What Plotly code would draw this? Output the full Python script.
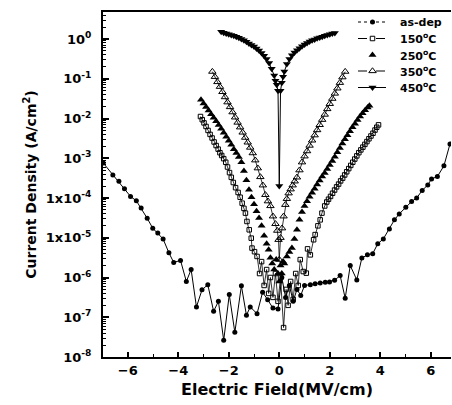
import plotly.graph_objects as go

# ---------------- data (E in MV/cm, log10 of J in A/cm^2) ----------------
asdep_E = [-6.97,-6.59,-6.35,-6.13,-5.89,-5.66,-5.47,-5.23,-5.01,-4.81,-4.60,
           -4.37,-4.18,-3.91,-3.68,-3.49,-3.28,-3.06,-2.83,-2.60,-2.41,
           -2.20,-1.98,-1.76,-1.50,-1.30,-1.15,-0.88,-0.66,-0.46,-0.25,
           -0.05,0.10,0.25,0.40,0.55,0.70,0.85,1.00,1.23,1.42,
           1.62,1.82,1.99,2.19,2.41,2.61,2.81,3.07,3.27,3.49,
           3.70,3.90,4.12,4.36,4.56,4.75,5.01,5.24,5.44,5.66,
           5.88,6.03,6.26,6.52,6.76]
asdep_logJ = [-3.12,-3.42,-3.58,-3.77,-3.96,-4.07,-4.25,-4.51,-4.76,-4.88,-5.03,
              -5.38,-5.62,-5.57,-6.10,-5.80,-6.74,-6.31,-6.18,-6.85,-6.60,
              -7.58,-6.43,-7.38,-6.21,-6.95,-6.74,-6.91,-6.37,-6.56,-6.77,
              -6.79,-6.00,-6.50,-6.20,-6.60,-6.30,-6.45,-6.20,-6.18,-6.16,
              -6.14,-6.12,-6.11,-6.07,-5.95,-6.52,-5.70,-6.06,-5.51,-5.43,
              -5.40,-5.15,-5.03,-4.78,-4.55,-4.40,-4.23,-4.09,-4.00,-3.81,
              -3.67,-3.52,-3.46,-3.19,-2.64]

t150_E = [-3.12,-3.05,-2.98,-2.90,-2.82,-2.74,-2.66,-2.58,-2.50,-2.42,-2.35,-2.28,-2.20,-2.12,-2.05,
          -1.97,-1.90,-1.82,-1.73,-1.63,-1.55,-1.47,-1.40,-1.34,-1.28,-1.19,-1.11,-1.08,-0.98,-0.88,
          -0.78,-0.70,-0.60,-0.50,-0.42,-0.35,-0.25,-0.15,-0.05,0.05,0.17,0.27,0.35,0.45,0.55,0.65,0.75,
          0.83,0.95,1.07,1.12,1.23,1.36,1.42,1.53,1.62,1.69,1.80,1.88,1.95,2.03,2.11,2.19,2.27,2.35,
          2.43,2.51,2.59,2.67,2.75,2.83,2.91,2.99,3.07,3.15,3.23,3.31,3.39,3.47,3.55,3.63,3.71,3.79,3.86,3.93]
t150_logJ = [-1.95,-2.03,-2.11,-2.20,-2.30,-2.40,-2.49,-2.59,-2.68,-2.77,-2.86,-2.93,-3.01,-3.10,-3.22,
             -3.36,-3.48,-3.61,-3.74,-3.86,-3.98,-4.13,-4.26,-4.38,-4.59,-4.80,-5.01,-5.26,-5.35,-5.47,
             -5.90,-5.60,-6.20,-5.80,-6.40,-6.00,-6.50,-5.90,-6.60,-6.00,-7.26,-6.30,-6.70,-6.10,-6.55,-5.90,-6.20,
             -5.55,-5.85,-5.89,-5.28,-5.43,-5.05,-4.92,-4.70,-4.55,-4.38,-4.20,-4.10,-4.03,-3.96,-3.88,-3.80,-3.72,-3.65,
             -3.57,-3.50,-3.42,-3.34,-3.26,-3.18,-3.10,-3.02,-2.94,-2.86,-2.79,-2.72,-2.65,-2.58,-2.51,-2.44,-2.37,-2.29,-2.22,-2.16]

t250_E = [-3.10,-3.00,-2.90,-2.80,-2.70,-2.60,-2.50,-2.40,-2.30,-2.20,-2.10,-2.00,-1.90,-1.80,-1.70,-1.60,
          -1.50,-1.40,-1.30,-1.20,-1.10,-1.00,-0.90,-0.80,-0.70,-0.60,-0.50,-0.42,-0.35,-0.28,-0.20,-0.12,
          -0.05,0.00,0.05,0.10,0.15,0.20,0.30,0.40,0.50,0.60,0.70,0.80,0.90,1.00,1.10,1.20,1.30,1.40,1.50,
          1.60,1.70,1.80,1.90,2.00,2.10,2.20,2.30,2.40,2.50,2.60,2.70,2.80,2.90,3.00,3.10,3.20,3.30,3.40,3.50,3.57]
t250_logJ = [-1.53,-1.62,-1.71,-1.80,-1.89,-1.98,-2.07,-2.16,-2.26,-2.36,-2.46,-2.56,-2.66,-2.77,-2.87,-2.97,
             -3.10,-3.32,-3.55,-3.79,-3.98,-4.16,-4.33,-4.50,-4.70,-4.95,-5.15,-5.30,-5.50,-5.65,-5.80,-5.55,
             -5.90,-6.10,-5.70,-5.90,-5.60,-5.65,-5.47,-5.36,-5.26,-5.03,-4.80,-4.55,-4.35,-4.20,-4.08,-3.97,-3.87,-3.77,-3.66,
             -3.56,-3.46,-3.37,-3.27,-3.17,-3.07,-2.96,-2.85,-2.74,-2.63,-2.52,-2.42,-2.32,-2.22,-2.13,-2.04,-1.95,-1.87,-1.79,-1.72,-1.68]

t350_E = [-2.65,-2.55,-2.45,-2.35,-2.25,-2.15,-2.05,-1.95,-1.85,-1.75,-1.65,-1.55,-1.45,-1.35,-1.25,-1.15,
          -1.05,-0.95,-0.85,-0.75,-0.65,-0.55,-0.45,-0.35,-0.25,-0.15,-0.08,-0.03,0.00,
          0.05,0.11,0.17,0.24,0.30,0.37,0.45,0.53,0.61,0.70,0.80,0.90,1.00,1.10,1.20,1.30,1.40,1.50,
          1.60,1.70,1.80,1.90,2.00,2.10,2.20,2.30,2.40,2.50,2.61]
t350_logJ = [-0.82,-0.95,-1.08,-1.20,-1.33,-1.46,-1.59,-1.71,-1.84,-1.97,-2.10,-2.22,-2.35,-2.48,-2.60,-2.73,
             -2.87,-3.05,-3.25,-3.47,-3.68,-3.92,-4.08,-4.20,-4.46,-4.65,-4.82,-5.05,-5.55,
             -5.00,-4.76,-4.46,-4.17,-4.02,-3.88,-3.78,-3.68,-3.58,-3.48,-3.30,-3.10,-2.95,-2.82,-2.68,-2.55,-2.42,-2.29,
             -2.16,-2.03,-1.90,-1.76,-1.63,-1.50,-1.37,-1.24,-1.10,-0.96,-0.82]

t450_E = [-2.3,-2.2,-2.1,-2.0,-1.9,-1.8,-1.7,-1.6,-1.5,-1.4,-1.3,-1.2,-1.1,-1.0,-0.9,-0.8,-0.7,-0.6,-0.5,
          -0.4,-0.3,-0.2,-0.15,-0.1,-0.05,0.0,0.05,0.1,0.15,0.2,0.3,0.4,0.5,0.6,0.7,0.8,0.9,1.0,1.1,1.2,
          1.3,1.4,1.5,1.6,1.7,1.8,1.9,2.0,2.1,2.2]
t450_logJ = [0.18,0.16,0.14,0.12,0.10,0.08,0.06,0.03,0.0,-0.03,-0.07,-0.11,-0.15,-0.19,-0.24,-0.29,-0.35,-0.42,-0.50,
             -0.60,-0.75,-0.92,-1.05,-1.15,-1.30,-3.70,-1.30,-1.10,-0.95,-0.82,-0.63,-0.50,-0.41,-0.34,-0.28,-0.23,-0.18,-0.14,-0.10,-0.06,
             -0.03,-0.01,0.02,0.04,0.06,0.08,0.10,0.12,0.14,0.15]

series_names = ["as-dep", "150<sup>o</sup>C", "250<sup>o</sup>C", "350<sup>o</sup>C", "450<sup>o</sup>C"]

x_tickvals = [-6, -4, -2, 0, 2, 4, 6]
x_minorvals = [-5, -3, -1, 1, 3, 5]
y_tickvals = [1e0, 1e-1, 1e-2, 1e-3, 1e-4, 1e-5, 1e-6, 1e-7, 1e-8]
y_ticktext = ["10<sup>0</sup>", "10<sup>-1</sup>", "10<sup>-2</sup>", "10<sup>-3</sup>",
              "1x10<sup>-4</sup>", "1x10<sup>-5</sup>", "10<sup>-6</sup>", "10<sup>-7</sup>", "10<sup>-8</sup>"]

for a, b in [(asdep_E, asdep_logJ), (t150_E, t150_logJ), (t250_E, t250_logJ),
             (t350_E, t350_logJ), (t450_E, t450_logJ)]:
    assert len(a) == len(b), (len(a), len(b))

def J(logs):
    return [10 ** v for v in logs]

BLACK = "black"
styles = [
    dict(mode="lines+markers", line=dict(color=BLACK, width=1),
         marker=dict(symbol="circle", size=5, color=BLACK), leg_dash="dot"),
    dict(mode="lines+markers", line=dict(color=BLACK, width=0.8),
         marker=dict(symbol="square-open", size=4.5, color=BLACK, line=dict(width=1)), leg_dash="dash"),
    dict(mode="markers", line=dict(color=BLACK, width=0),
         marker=dict(symbol="triangle-up", size=7, color=BLACK), leg_dash=None),
    dict(mode="lines+markers", line=dict(color=BLACK, width=0.8),
         marker=dict(symbol="triangle-up-open", size=6.5, color=BLACK, line=dict(width=1)), leg_dash="dash"),
    dict(mode="lines+markers", line=dict(color=BLACK, width=1),
         marker=dict(symbol="triangle-down", size=7, color=BLACK), leg_dash="solid"),
]
datasets = [(asdep_E, asdep_logJ), (t150_E, t150_logJ), (t250_E, t250_logJ),
            (t350_E, t350_logJ), (t450_E, t450_logJ)]

fig = go.Figure()
for (ex, lj), st, nm in zip(datasets, styles, series_names):
    fig.add_trace(go.Scatter(x=ex, y=J(lj), mode=st["mode"], line=st["line"],
                             marker=st["marker"], name=nm, showlegend=False,
                             xaxis="x", yaxis="y"))

# ---- hand-made legend (drawn on an overlay axis in plot-area fractions) ----
W, H = 452, 405
L, R, T, B = 103, 1, 12, 48
pw, ph = W - L - R, H - T - B
def fx(px):
    return (px - L) / pw
def fy(py):
    return (H - B - py) / ph
leg_rows = [22, 38.5, 55, 71, 87.5]
for (st, nm, row) in zip(styles, series_names, leg_rows):
    yy = fy(row)
    if st["leg_dash"] is not None:
        fig.add_trace(go.Scatter(x=[fx(358), fx(386)], y=[yy, yy], mode="lines",
                                 line=dict(color=BLACK, width=1, dash=st["leg_dash"]),
                                 xaxis="x2", yaxis="y2", showlegend=False, hoverinfo="skip"))
    fig.add_trace(go.Scatter(x=[fx(372.5)], y=[yy], mode="markers", marker=st["marker"],
                             xaxis="x2", yaxis="y2", showlegend=False, hoverinfo="skip"))
    fig.add_annotation(x=fx(398), y=yy, xref="x2", yref="y2", text="<b>%s</b>" % nm,
                       showarrow=False, xanchor="left", yanchor="middle",
                       font=dict(family="DejaVu Sans", size=11, color=BLACK))

tickfont = dict(family="DejaVu Sans", size=13, color=BLACK, weight="bold")
fig.update_layout(
    width=W, height=H,
    margin=dict(l=L, r=R, t=T, b=B),
    paper_bgcolor="white", plot_bgcolor="white",
    showlegend=False,
    xaxis=dict(range=[-6.98, 6.8], tickmode="array", tickvals=x_tickvals,
               ticks="inside", ticklen=5, tickwidth=1.5, tickcolor=BLACK,
               minor=dict(tickmode="array", tickvals=x_minorvals, ticks="inside",
                          ticklen=3, tickwidth=1, tickcolor=BLACK),
               showline=True, linecolor=BLACK, linewidth=2, mirror=True,
               showgrid=False, zeroline=False, tickfont=tickfont,
               title=dict(text="<b>Electric Field(MV/cm)</b>", standoff=7,
                          font=dict(family="DejaVu Sans", size=16, color=BLACK))),
    yaxis=dict(type="log", range=[-8, 0.68], tickmode="array", tickvals=y_tickvals,
               ticktext=y_ticktext, ticks="inside", ticklen=6, tickwidth=1.5, tickcolor=BLACK,
               minor=dict(tickmode="array",
                          tickvals=[m * 10.0 ** k for k in range(-8, 1) for m in range(2, 10)],
                          ticks="inside", ticklen=3, tickwidth=1, tickcolor=BLACK),
               showline=True, linecolor=BLACK, linewidth=2, mirror=False,
               showgrid=False, zeroline=False, tickfont=tickfont, ticklabelstandoff=7,
               title=dict(text="<b>Current Density (A/cm<sup>2</sup>)</b>", standoff=6,
                          font=dict(family="DejaVu Sans", size=14, color=BLACK))),
    xaxis2=dict(overlaying="x", range=[0, 1], visible=False, fixedrange=True),
    yaxis2=dict(overlaying="y", range=[0, 1], visible=False, fixedrange=True),
)

fig.write_html("out.html", config={"displayModeBar": False},
               post_script="document.body.style.margin='0';document.body.style.padding='0';")
